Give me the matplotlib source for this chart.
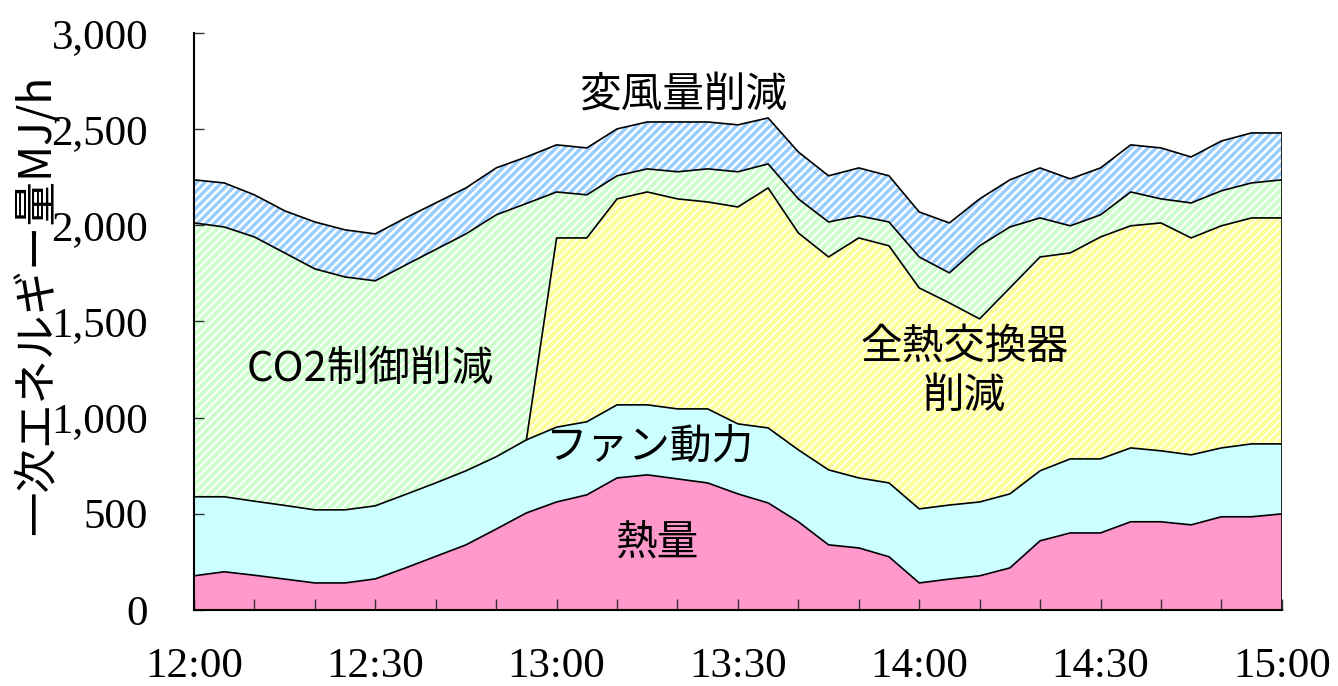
import numpy as np
import matplotlib.pyplot as plt
from matplotlib.ticker import FuncFormatter, MultipleLocator

# 5-minute samples, 12:00 -> 15:00 (minutes after 12:00)
minutes = list(range(0, 181, 5))

# layer values [MJ/h], bottom to top
heat = [177, 198, 180, 160, 140, 140, 161, 218, 278, 338, 420, 504, 561,
        598, 686, 702, 681, 660, 603, 556, 458, 338, 322, 276, 140,
        160, 177, 218, 359, 400, 400, 458, 458, 442, 484, 484, 499]
fan = [411, 390, 385, 383, 380, 380, 380, 382, 382, 385, 376, 380, 389,
       380, 380, 364, 364, 385, 364, 390, 374, 390, 364, 384, 385,
       385, 384, 385, 364, 385, 385, 384, 369, 364, 358, 379, 364]
heat_exch = [0, 0, 0, 0, 0, 0, 0, 0, 0, 0, 0, 0, 984,
             956, 1071, 1107, 1092, 1076, 1128, 1248, 1128, 1107, 1248, 1233, 1149,
             1051, 952, 1071, 1112, 1071, 1154, 1155, 1185, 1128, 1155, 1175, 1175]
co2 = [1424, 1403, 1374, 1313, 1253, 1211, 1170, 1193, 1214, 1232, 1258, 1229, 239,
       224, 120, 120, 141, 172, 183, 125, 177, 182, 115, 124, 161,
       156, 380, 317, 203, 141, 115, 176, 125, 182, 182, 182, 198]
vav = [224, 229, 219, 219, 244, 245, 244, 245, 242, 239, 244, 242, 245,
       244, 244, 244, 259, 244, 244, 239, 244, 240, 249, 240, 234,
       260, 244, 245, 260, 244, 244, 245, 265, 239, 259, 260, 244]

x_labels = ["12:00", "12:30", "13:00", "13:30", "14:00", "14:30", "15:00"]

plt.rcParams['font.family'] = ['Liberation Serif', 'DejaVu Serif']
jp = ['Noto Sans CJK JP', 'DejaVu Sans']

x = np.array(minutes)
c1 = np.array(heat)
c2 = c1 + np.array(fan)
c3 = c2 + np.array(heat_exch)
c4 = c3 + np.array(co2)
c5 = c4 + np.array(vav)

fig = plt.figure(figsize=(13.38, 6.86), dpi=100)
ax = fig.add_axes([0.145, 0.111, 0.813, 0.841])

ax.fill_between(x, 0, c1, facecolor="#ff99cc", linewidth=0)
ax.fill_between(x, c1, c2, facecolor="#ccffff", linewidth=0)
# striped layers: coloured face, white hatch lines
for lo, hi, col, hlw in [(c2, c3, "#ffff99", 1.2), (c3, c4, "#ccffcc", 1.4),
                         (c4, c5, "#99ccff", 1.8)]:
    plt.rcParams['hatch.linewidth'] = hlw
    ax.fill_between(x, lo, hi, facecolor=col, edgecolor="white", hatch="////",
                    linewidth=0)

start = next(i for i, v in enumerate(heat_exch) if v > 0) - 1
for top, i0 in [(c1, 0), (c2, 0), (c3, start), (c4, 0), (c5, 0)]:
    ax.plot(x[i0:], top[i0:], color="black", linewidth=1.2)
ax.plot([x[-1], x[-1]], [0, c5[-1]], color="black", linewidth=1.2)

ax.set_xlim(0, 180)
ax.set_ylim(0, 3000)
ax.xaxis.set_minor_locator(MultipleLocator(10))
ax.set_xticks(range(0, 181, 30))
ax.set_xticklabels(x_labels)
ax.yaxis.set_major_locator(MultipleLocator(500))
ax.yaxis.set_major_formatter(FuncFormatter(lambda v, p: f"{int(v):,}"))

ax.tick_params(axis="y", which="both", direction="in", length=7, width=1,
               labelsize=31, pad=33, colors="#333333", labelcolor="black")
ax.tick_params(axis="x", which="both", direction="in", length=8, width=1,
               labelsize=31, pad=27, colors="#333333", labelcolor="black")

for s in ["top", "right"]:
    ax.spines[s].set_visible(False)
for s in ["left", "bottom"]:
    ax.spines[s].set_linewidth(1.5)
    ax.spines[s].set_color("black")

fig.text(37 / 1338, 0.555, "一次エネルギー量MJ/h", rotation=90, ha="center",
         va="center", fontsize=32, family=jp)

ax.text(81, 2678, "変風量削減", ha="center", va="center", fontsize=30, family=jp)
ax.text(29.1, 1250, "CO2制御削減", ha="center", va="center", fontsize=30, family=jp)
ax.text(127.5, 1237, "全熱交換器\n削減", ha="center", va="center", fontsize=30,
        family=jp, linespacing=1.25)
ax.text(75.4, 847, "ファン動力", ha="center", va="center", fontsize=30, family=jp)
ax.text(76.6, 345, "熱量", ha="center", va="center", fontsize=30, family=jp)

fig.savefig("out.png", dpi=100)
